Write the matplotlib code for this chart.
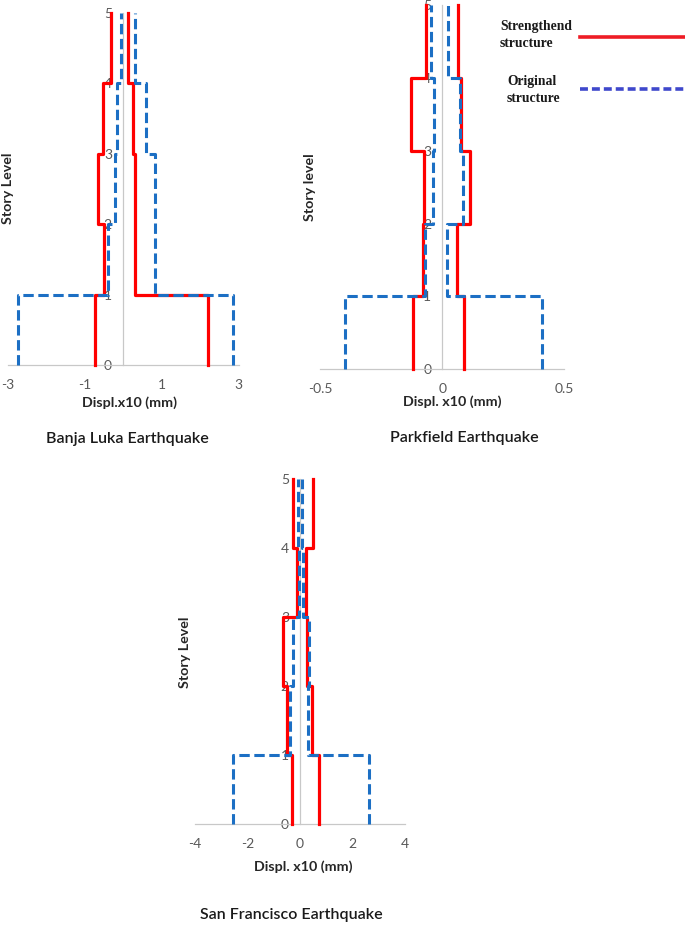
import numpy as np
import matplotlib
matplotlib.use("Agg")
import matplotlib.pyplot as plt
from matplotlib.lines import Line2D

W, H = 685, 926

stories = [0, 1, 2, 3, 4, 5]

# displacement envelopes per story segment (0-1, 1-2, 2-3, 3-4, 4-5)
banja_red_left = [-0.74, -0.50, -0.65, -0.52, -0.31]
banja_red_right = [2.21, 0.31, 0.30, 0.25, 0.12]
banja_blue_left = [-2.74, -0.38, -0.21, -0.15, -0.06]
banja_blue_right = [2.86, 0.83, 0.83, 0.61, 0.31]

park_red_left = [-0.12, -0.078, -0.074, -0.13, -0.067]
park_red_right = [0.09, 0.059, 0.113, 0.075, 0.063]
park_blue_left = [-0.40, -0.071, -0.038, -0.035, -0.045]
park_blue_right = [0.407, 0.02, 0.083, 0.072, 0.025]

sf_red_left = [-0.32, -0.48, -0.63, -0.12, -0.27]
sf_red_right = [0.74, 0.44, 0.26, 0.21, 0.49]
sf_blue_left = [-2.57, -0.38, -0.25, -0.05, -0.08]
sf_blue_right = [2.63, 0.32, 0.36, 0.11, 0.08]

banja_xticks = [-3, -1, 1, 3]
park_xticks = [-0.5, 0, 0.5]
sf_xticks = [-4, -2, 0, 2, 4]

RED = "#ff0000"
BLUE = "#1c6fc4"
GRAY = "#595959"
SANS = "Lato"

fig = plt.figure(figsize=(W / 100, H / 100), dpi=100)


def px(x, y):
    return x / W, 1 - y / H


def steps(vals):
    ys = np.repeat(stories, 2)[1:-1]
    xs = np.repeat(vals, 2)
    return xs, ys


def panel(l, r, t, b, xlim, xticks, red, blue):
    ax = fig.add_axes([l / W, 1 - b / H, (r - l) / W, (b - t) / H])
    for vals in red:
        xs, ys = steps(vals)
        ax.plot(xs, ys, color=RED, lw=2.3, clip_on=False, zorder=3)
    for vals in blue:
        xs, ys = steps(vals)
        ax.plot(xs, ys, color=BLUE, lw=2.2, dashes=(3.4, 1.5), clip_on=False, zorder=4)
    ax.set_xlim(xlim)
    ax.set_ylim(0, 5)
    ax.set_xticks(xticks)
    ax.set_xticklabels([f"{v:g}" for v in xticks])
    ax.set_yticks(stories)
    for s in ["top", "right"]:
        ax.spines[s].set_visible(False)
    ax.spines["left"].set_position(("data", 0))
    ax.spines["left"].set_color("#c8c8c8")
    ax.spines["left"].set_linewidth(0.9)
    ax.spines["bottom"].set_color("#c8c8c8")
    ax.spines["bottom"].set_linewidth(0.9)
    ax.tick_params(axis="both", length=0, labelcolor=GRAY, labelsize=10)
    ax.tick_params(axis="x", pad=10)
    ax.tick_params(axis="y", pad=8)
    for lab in ax.get_xticklabels() + ax.get_yticklabels():
        lab.set_family(SANS)
    ax.patch.set_alpha(0)
    return ax


panel(7.5, 238.5, 13, 365, (-3, 3), banja_xticks,
      [banja_red_left, banja_red_right], [banja_blue_left, banja_blue_right])
panel(320.3, 564.3, 5, 369.3, (-0.5, 0.5), park_xticks,
      [park_red_left, park_red_right], [park_blue_left, park_blue_right])
panel(195, 405, 479.3, 824.3, (-4, 4), sf_xticks,
      [sf_red_left, sf_red_right], [sf_blue_left, sf_blue_right])

# axis labels and titles
lab_kw = dict(family=SANS, fontweight="bold", fontsize=10.3, color="#262626",
              ha="center", va="center")
fig.text(*px(8, 188), "Story Level", rotation=90, **lab_kw)
fig.text(*px(310, 187), "Story level", rotation=90, **lab_kw)
fig.text(*px(185, 652), "Story Level", rotation=90, **lab_kw)
fig.text(*px(130, 403), "Displ.x10 (mm)", **lab_kw)
fig.text(*px(452, 402), "Displ. x10 (mm)", **lab_kw)
fig.text(*px(303, 867), "Displ. x10 (mm)", **lab_kw)

tit_kw = dict(family=SANS, fontweight="semibold", fontsize=11.5, color="#1a1a1a",
              ha="center", va="center")
fig.text(*px(127, 439), "Banja Luka Earthquake", **tit_kw)
fig.text(*px(464, 438), "Parkfield Earthquake", **tit_kw)
fig.text(*px(291, 915), "San Francisco Earthquake", **tit_kw)

# legend
leg_kw = dict(family="Liberation Serif", fontweight="bold", fontsize=9.8,
              color="#1a1a1a", ha="left", va="center", linespacing=1.35)
fig.text(*px(500, 35), "Strengthend\nstructure", **leg_kw)
fig.text(*px(507, 90), "Original\nstructure", **leg_kw)
fig.add_artist(Line2D([580 / W, 1], [1 - 36.7 / H] * 2, color="#ee1c25", lw=2.6,
                      transform=fig.transFigure))
fig.add_artist(Line2D([580 / W, 1], [1 - 89.3 / H] * 2, color="#3f48cc", lw=2.6,
                      dashes=(2.2, 1.1), transform=fig.transFigure))

fig.savefig("out.png", dpi=100)
